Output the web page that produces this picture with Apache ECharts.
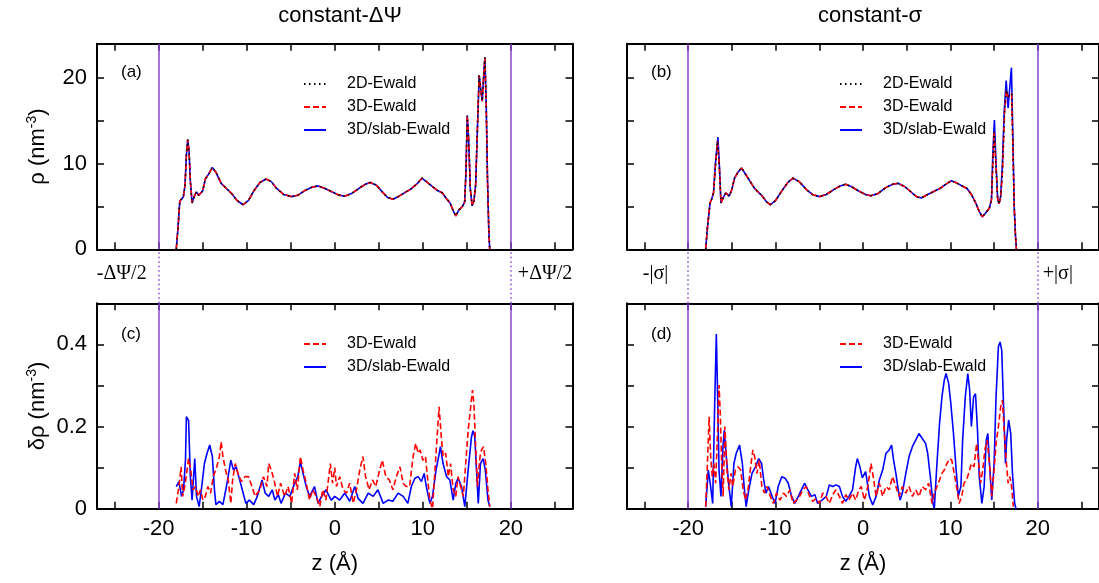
<!DOCTYPE html>
<html><head><meta charset="utf-8">
<script src="https://cdn.jsdelivr.net/npm/echarts@6/dist/echarts.min.js"></script>
<style>html,body{margin:0;padding:0;background:#fff}#c{width:1099px;height:583px}</style>
</head><body><div id="c"></div>
<script>
// ---- tick / label values ----
const xTicks = [-25,-20,-15,-10,-5,0,5,10,15,20,25];
const xLabels = [-20,-10,0,10,20];
const rhoTicks = [0,5,10,15,20];
const rhoLabels = [0,10,20];
const dTicks = [0,0.1,0.2,0.3,0.4];
const dLabels = [0,0.2,0.4];
const electrodes = [-20, 20];
const panelTitles = ['constant-ΔΨ', 'constant-σ'];
const seriesNames = ['2D-Ewald', '3D-Ewald', '3D/slab-Ewald'];

// ---- (a) density, constant-ΔΨ: the three methods coincide ----
const rhoA = [[-18.0,0],[-17.8,2.5],[-17.6,5.6],[-17.4,5.8],[-17.2,6.1],[-17.0,7.5],[-16.85,11.0],[-16.7,12.8],[-16.55,11.5],[-16.4,8.0],[-16.2,5.4],[-15.95,6.2],[-15.7,6.7],[-15.45,6.3],[-15.25,6.1],[-15.0,6.8],[-14.7,8.2],[-14.3,8.8],[-13.9,9.55],[-13.5,9.0],[-12.9,7.7],[-12.3,7.1],[-11.7,6.5],[-11.1,5.7],[-10.4,5.2],[-9.8,5.7],[-9.2,6.8],[-8.5,7.8],[-7.8,8.2],[-7.2,7.9],[-6.6,7.1],[-5.8,6.4],[-4.9,6.15],[-4.2,6.3],[-3.5,6.8],[-2.6,7.25],[-1.9,7.4],[-1.1,7.1],[-0.4,6.75],[0.4,6.35],[1.1,6.2],[1.9,6.5],[2.8,7.15],[3.5,7.6],[4.0,7.8],[4.7,7.5],[5.4,6.7],[6.0,6.05],[6.6,5.85],[7.3,6.2],[8.0,6.65],[8.6,7.0],[9.3,7.6],[9.9,8.3],[10.4,7.9],[11.0,7.4],[11.6,6.9],[12.2,6.6],[12.7,5.9],[13.1,5.4],[13.45,4.5],[13.75,3.9],[14.1,4.6],[14.5,5.0],[14.75,5.5],[14.9,9.0],[15.05,15.6],[15.2,13.0],[15.4,7.0],[15.6,5.1],[15.8,5.6],[16.0,7.5],[16.2,14.0],[16.4,20.3],[16.6,18.5],[16.75,17.3],[16.9,20.0],[17.05,22.4],[17.2,17.0],[17.35,8.0],[17.5,2.0],[17.6,0]];

// ---- (b) density, constant-σ ----
const rhoB_3D = [[-18.0,0],[-17.8,2.5],[-17.5,5.4],[-17.3,5.9],[-17.1,6.6],[-16.9,9.5],[-16.65,12.6],[-16.45,10.0],[-16.25,5.4],[-16.0,6.0],[-15.7,6.6],[-15.3,6.2],[-15.0,7.0],[-14.7,8.3],[-14.3,9.0],[-13.9,9.5],[-13.4,8.7],[-12.4,7.1],[-11.6,6.3],[-11.0,5.5],[-10.6,5.2],[-10.0,5.7],[-9.3,6.8],[-8.6,7.8],[-8.0,8.3],[-7.3,7.9],[-6.5,7.0],[-5.8,6.4],[-5.0,6.15],[-4.2,6.4],[-3.3,7.0],[-2.6,7.4],[-2.0,7.6],[-1.3,7.3],[-0.5,6.8],[0.3,6.4],[0.9,6.25],[1.7,6.5],[2.6,7.2],[3.4,7.6],[4.0,7.7],[4.8,7.3],[5.6,6.6],[6.2,6.1],[6.7,6.0],[7.4,6.4],[8.2,6.8],[8.8,7.1],[9.5,7.6],[10.1,8.0],[10.8,7.7],[11.5,7.3],[11.9,7.1],[12.4,6.4],[12.9,5.4],[13.3,4.4],[13.65,3.8],[14.0,4.2],[14.45,4.8],[14.7,5.8],[14.85,10.0],[15.0,13.7],[15.2,10.0],[15.4,6.0],[15.55,5.3],[15.75,6.0],[15.95,9.0],[16.2,16.0],[16.4,18.6],[16.6,17.8],[16.8,17.8],[17.0,18.2],[17.15,12.0],[17.3,5.0],[17.45,1.5],[17.55,0]];
const rhoB_slab = [[-18.0,0],[-17.8,2.5],[-17.5,5.4],[-17.3,5.9],[-17.1,6.6],[-16.9,9.8],[-16.6,13.1],[-16.45,10.2],[-16.25,5.4],[-16.0,6.0],[-15.7,6.6],[-15.3,6.2],[-15.0,7.0],[-14.7,8.3],[-14.3,9.0],[-13.9,9.5],[-13.4,8.7],[-12.4,7.1],[-11.6,6.3],[-11.0,5.5],[-10.6,5.2],[-10.0,5.7],[-9.3,6.8],[-8.6,7.8],[-8.0,8.3],[-7.3,7.9],[-6.5,7.0],[-5.8,6.4],[-5.0,6.15],[-4.2,6.4],[-3.3,7.0],[-2.6,7.4],[-2.0,7.6],[-1.3,7.3],[-0.5,6.8],[0.3,6.4],[0.9,6.25],[1.7,6.5],[2.6,7.2],[3.4,7.6],[4.0,7.7],[4.8,7.3],[5.6,6.6],[6.2,6.1],[6.7,6.0],[7.4,6.4],[8.2,6.8],[8.8,7.1],[9.5,7.6],[10.1,8.0],[10.8,7.7],[11.5,7.3],[11.9,7.1],[12.4,6.4],[12.9,5.4],[13.3,4.4],[13.65,3.8],[14.0,4.2],[14.45,4.8],[14.7,5.8],[14.85,11.0],[15.03,15.1],[15.2,10.5],[15.4,6.0],[15.55,5.3],[15.75,6.2],[15.95,10.0],[16.15,16.0],[16.38,19.7],[16.6,16.5],[16.8,19.0],[16.98,21.2],[17.15,13.0],[17.3,5.0],[17.45,1.5],[17.55,0]];

// ---- (c) deviation, constant-ΔΨ ----
const dC_3D = [[-18.0,0.013],[-17.7,0.054],[-17.45,0.102],[-17.27,0.03],[-16.97,0.062],[-16.6,0.122],[-16.35,0.094],[-16.1,0.046],[-15.8,0.054],[-15.5,0.03],[-15.25,0.046],[-14.97,0.021],[-14.7,0.03],[-14.4,0.054],[-14.1,0.038],[-13.8,0.078],[-13.4,0.102],[-13.1,0.127],[-12.9,0.163],[-12.7,0.127],[-12.4,0.094],[-12.1,0.07],[-11.8,0.013],[-11.6,0.07],[-11.3,0.11],[-11.0,0.086],[-10.6,0.066],[-10.2,0.078],[-9.8,0.078],[-9.4,0.054],[-9.05,0.03],[-8.5,0.046],[-8.1,0.078],[-7.7,0.054],[-7.5,0.11],[-7.2,0.094],[-6.9,0.07],[-6.5,0.03],[-6.15,0.062],[-5.7,0.03],[-5.3,0.054],[-4.9,0.013],[-4.55,0.086],[-4.25,0.046],[-3.9,0.127],[-3.6,0.094],[-3.24,0.062],[-2.86,0.021],[-2.5,0.046],[-2.1,0.03],[-1.7,0.005],[-1.36,0.046],[-1.0,0.021],[-0.5,0.11],[-0.25,0.062],[0.0,0.1],[0.19,0.054],[0.57,0.078],[0.95,0.046],[1.33,0.038],[1.7,0.062],[2.1,0.013],[2.46,0.046],[2.84,0.094],[3.2,0.127],[3.5,0.078],[3.9,0.046],[4.28,0.07],[4.66,0.054],[5.1,0.094],[5.4,0.118],[5.8,0.078],[6.2,0.07],[6.6,0.046],[7.0,0.078],[7.4,0.102],[7.77,0.062],[8.1,0.054],[8.5,0.054],[8.9,0.127],[9.2,0.159],[9.47,0.135],[9.7,0.143],[10.0,0.118],[10.3,0.127],[10.6,0.062],[10.8,0.021],[11.1,0.0],[11.36,0.086],[11.6,0.167],[11.85,0.248],[12.1,0.175],[12.3,0.127],[12.6,0.135],[12.9,0.078],[13.15,0.11],[13.45,0.046],[13.75,0.03],[14.0,0.078],[14.3,0.054],[14.6,0.03],[14.9,0.118],[15.15,0.191],[15.4,0.24],[15.64,0.289],[15.8,0.257],[16.0,0.151],[16.2,0.054],[16.5,0.127],[16.67,0.143],[16.9,0.151],[17.15,0.11],[17.4,0.046],[17.6,0.005]];
const dC_slab = [[-18.0,0.054],[-17.7,0.066],[-17.4,0.03],[-17.17,0.046],[-16.95,0.12],[-16.85,0.224],[-16.6,0.215],[-16.4,0.078],[-16.2,0.021],[-15.9,0.122],[-15.7,0.03],[-15.4,0.005],[-15.15,0.046],[-14.8,0.11],[-14.5,0.135],[-14.2,0.155],[-13.9,0.127],[-13.66,0.046],[-13.5,0.01],[-13.1,0.018],[-12.7,0.01],[-12.3,0.054],[-11.8,0.118],[-11.5,0.094],[-11.2,0.102],[-10.9,0.078],[-10.5,0.046],[-10.1,0.013],[-9.7,0.021],[-9.2,0.01],[-8.8,0.03],[-8.26,0.07],[-7.9,0.038],[-7.5,0.03],[-7.1,0.046],[-6.8,0.021],[-6.4,0.034],[-6.1,0.013],[-5.6,0.038],[-5.1,0.03],[-4.55,0.062],[-4.2,0.078],[-3.9,0.114],[-3.6,0.086],[-3.24,0.054],[-2.86,0.03],[-2.3,0.054],[-1.9,0.013],[-1.5,0.03],[-1.0,0.046],[-0.4,0.021],[0.0,0.03],[0.57,0.021],[1.14,0.038],[1.7,0.018],[2.27,0.054],[2.65,0.025],[3.2,0.013],[3.8,0.038],[4.36,0.03],[4.9,0.046],[5.5,0.013],[6.06,0.021],[6.6,0.018],[7.2,0.038],[7.77,0.03],[8.3,0.013],[8.7,0.054],[9.1,0.074],[9.47,0.078],[9.85,0.066],[10.15,0.086],[10.4,0.054],[10.8,0.013],[11.1,0.03],[11.5,0.094],[11.8,0.127],[12.0,0.151],[12.3,0.11],[12.7,0.078],[13.07,0.07],[13.45,0.021],[13.75,0.062],[14.0,0.074],[14.4,0.054],[14.77,0.005],[15.15,0.094],[15.53,0.175],[15.7,0.19],[15.9,0.175],[16.1,0.094],[16.3,0.013],[16.55,0.11],[16.85,0.122],[17.1,0.094],[17.4,0.021],[17.6,0.005]];

// ---- (d) deviation, constant-σ ----
const dD_3D = [[-18.0,0.005],[-17.8,0.11],[-17.6,0.224],[-17.43,0.127],[-17.24,0.078],[-17.05,0.11],[-16.86,0.062],[-16.63,0.191],[-16.47,0.301],[-16.33,0.232],[-16.17,0.11],[-16.0,0.03],[-15.8,0.2],[-15.56,0.094],[-15.34,0.046],[-15.1,0.086],[-14.9,0.054],[-14.6,0.094],[-14.3,0.102],[-14.0,0.094],[-13.7,0.046],[-13.45,0.021],[-13.15,0.046],[-12.9,0.094],[-12.6,0.143],[-12.4,0.127],[-12.13,0.086],[-11.87,0.118],[-11.57,0.054],[-11.27,0.038],[-11.0,0.054],[-10.6,0.03],[-10.25,0.013],[-9.9,0.038],[-9.5,0.021],[-9.1,0.038],[-8.75,0.03],[-8.37,0.046],[-8.0,0.013],[-7.6,0.021],[-7.25,0.03],[-6.87,0.046],[-6.5,0.054],[-6.1,0.03],[-5.75,0.018],[-5.37,0.025],[-5.0,0.013],[-4.6,0.038],[-4.24,0.03],[-3.85,0.013],[-3.47,0.034],[-3.1,0.046],[-2.7,0.03],[-2.35,0.013],[-1.97,0.034],[-1.6,0.021],[-1.2,0.038],[-0.84,0.021],[-0.46,0.046],[-0.21,0.054],[0.17,0.021],[0.55,0.054],[0.92,0.11],[1.23,0.07],[1.5,0.03],[1.87,0.062],[2.25,0.03],[2.63,0.054],[3.0,0.046],[3.38,0.078],[3.76,0.054],[4.14,0.03],[4.5,0.054],[4.9,0.038],[5.27,0.054],[5.65,0.03],[6.03,0.046],[6.4,0.03],[6.78,0.054],[7.16,0.046],[7.5,0.062],[7.9,0.013],[8.16,0.038],[8.46,0.054],[8.76,0.07],[9.03,0.086],[9.3,0.094],[9.6,0.11],[9.9,0.122],[10.16,0.118],[10.43,0.086],[10.7,0.054],[11.0,0.013],[11.3,0.03],[11.55,0.062],[11.85,0.07],[12.2,0.094],[12.4,0.11],[12.7,0.102],[13.0,0.159],[13.2,0.118],[13.45,0.062],[13.7,0.094],[13.94,0.143],[14.2,0.167],[14.47,0.11],[14.73,0.03],[15.0,0.094],[15.22,0.159],[15.49,0.2],[15.75,0.248],[15.95,0.264],[16.1,0.208],[16.35,0.127],[16.6,0.062],[16.8,0.078],[17.0,0.054],[17.2,0.005]];
const dD_slab = [[-18.0,0.005],[-17.7,0.094],[-17.43,0.054],[-17.2,0.013],[-16.95,0.272],[-16.78,0.425],[-16.63,0.272],[-16.47,0.094],[-16.25,0.03],[-16.02,0.151],[-15.87,0.191],[-15.64,0.127],[-15.34,0.054],[-15.07,0.005],[-14.77,0.11],[-14.5,0.135],[-14.12,0.155],[-13.8,0.11],[-13.6,0.054],[-13.37,0.005],[-13.07,0.046],[-12.7,0.086],[-12.3,0.102],[-11.93,0.122],[-11.6,0.11],[-11.36,0.07],[-11.1,0.038],[-10.8,0.054],[-10.4,0.03],[-10.06,0.013],[-9.7,0.054],[-9.3,0.078],[-8.9,0.074],[-8.55,0.062],[-8.17,0.03],[-7.8,0.013],[-7.4,0.03],[-7.05,0.046],[-6.67,0.062],[-6.3,0.046],[-5.9,0.03],[-5.5,0.034],[-5.2,0.013],[-4.7,0.021],[-4.2,0.03],[-3.85,0.058],[-3.47,0.054],[-3.1,0.058],[-2.7,0.054],[-2.35,0.03],[-1.97,0.018],[-1.6,0.03],[-1.2,0.046],[-0.84,0.102],[-0.65,0.122],[-0.35,0.102],[-0.08,0.075],[0.3,0.09],[0.73,0.03],[1.11,0.009],[1.5,0.03],[1.87,0.07],[2.25,0.094],[2.63,0.135],[3.0,0.143],[3.27,0.155],[3.5,0.118],[3.76,0.086],[4.03,0.046],[4.25,0.021],[4.5,0.038],[4.9,0.086],[5.27,0.127],[5.65,0.151],[6.03,0.167],[6.4,0.183],[6.78,0.171],[7.16,0.159],[7.4,0.135],[7.7,0.078],[8.0,0.013],[8.16,0.001],[8.46,0.11],[8.76,0.208],[9.03,0.272],[9.3,0.313],[9.5,0.329],[9.8,0.305],[10.05,0.256],[10.35,0.183],[10.66,0.094],[10.9,0.03],[11.2,0.054],[11.4,0.167],[11.7,0.272],[11.99,0.329],[12.2,0.289],[12.4,0.2],[12.65,0.272],[12.87,0.28],[13.1,0.191],[13.3,0.078],[13.6,0.013],[13.86,0.054],[14.1,0.167],[14.28,0.183],[14.47,0.11],[14.73,0.021],[15.0,0.11],[15.22,0.272],[15.49,0.394],[15.68,0.406],[15.87,0.386],[16.05,0.272],[16.3,0.11],[16.43,0.167],[16.66,0.216],[16.9,0.183],[17.1,0.086],[17.35,0.013],[17.5,0.0]];

const F = 'Liberation Sans';
const PURPLE = '#8b45d6';
const chart = echarts.init(document.getElementById('c'), null, {renderer:'canvas'});

const grids = [
  {left:97, top:43.7, width:475.5, height:205.6},   // a
  {left:627, top:43.7, width:476, height:205.6},    // b
  {left:97, top:303.3, width:475.5, height:205.4},  // c
  {left:627, top:303.3, width:476, height:205.4},   // d
  {left:97, top:249.3, width:475.5, height:54},     // between a/c
  {left:627, top:249.3, width:476, height:54}       // between b/d
];
const xAxis = [], yAxis = [], series = [];
const axLine = {show:true, onZero:false, lineStyle:{color:'#000', width:2}};
function addX(gi, pos, labels, name){
  xAxis.push({type:'value', gridIndex:gi, position:pos, min:-27, max:27,
    axisLine:axLine,
    axisTick:{show:true, inside:true, length:7, customValues:xTicks, lineStyle:{color:'#000', width:1.5}},
    axisLabel:{show:labels, customValues:xLabels, fontSize:22, color:'#000', margin:9, fontFamily:F},
    splitLine:{show:false},
    name: name || '', nameLocation:'middle', nameGap:44,
    nameTextStyle:{fontSize:22, color:'#000', fontFamily:F}});
  return xAxis.length-1;
}
function addY(gi, pos, max, ticks, labels, showLabels, name){
  yAxis.push({type:'value', gridIndex:gi, position:pos, min:0, max:max,
    axisLine:axLine,
    axisTick:{show:true, inside:true, length:7, customValues:ticks, lineStyle:{color:'#000', width:1.5}},
    axisLabel:{show:showLabels, customValues:labels, fontSize:22, color:'#000', margin:10, fontFamily:F},
    splitLine:{show:false},
    name: name || '', nameLocation:'middle', nameGap:46, nameRotate:90,
    nameTextStyle:{color:'#000', fontFamily:F, rich:{
      a:{fontSize:22, fontFamily:F, color:'#000', lineHeight:26},
      s:{fontSize:14, fontFamily:F, color:'#000', verticalAlign:'top', lineHeight:26, padding:[0,0,12,0]}}}});
  return yAxis.length-1;
}
const rhoName = '{a|ρ (nm}{s|-3}{a|)}';
const dName = '{a|δρ (nm}{s|-3}{a|)}';

const styles = {
  '2D-Ewald': {color:'#000', type:[1.5,3.5], width:1.5},
  '3D-Ewald': {color:'#ff0000', type:[6,3], width:1.6},
  '3D/slab-Ewald': {color:'#0000ff', type:'solid', width:1.6}
};
function addLine(name, xi, yi, data, withMark){
  const s = {type:'line', name:name, xAxisIndex:xi, yAxisIndex:yi, data:data,
    showSymbol:false, symbol:'none', animation:false, clip:true,
    lineStyle:styles[name], itemStyle:{color:styles[name].color}};
  if (withMark) s.markLine = {silent:true, symbol:'none', animation:false,
    label:{show:false}, lineStyle:{color:PURPLE, type:'solid', width:1.5},
    data: electrodes.map(v => ({xAxis:v}))};
  series.push(s);
}

const panels = [
  {top:true, data:{'3D/slab-Ewald':rhoA, '3D-Ewald':rhoA, '2D-Ewald':rhoA}, yName:rhoName},
  {top:true, data:{'3D/slab-Ewald':rhoB_slab, '3D-Ewald':rhoB_3D, '2D-Ewald':rhoB_3D}, yName:''},
  {top:false, data:{'3D/slab-Ewald':dC_slab, '3D-Ewald':dC_3D}, yName:dName},
  {top:false, data:{'3D/slab-Ewald':dD_slab, '3D-Ewald':dD_3D}, yName:''}
];
const legends = [];
panels.forEach((p, gi) => {
  const bottomLabels = !p.top;
  const xb = addX(gi, 'bottom', bottomLabels, bottomLabels ? 'z (Å)' : '');
  addX(gi, 'top', false);
  const max = p.top ? 24 : 0.5;
  const ticks = p.top ? rhoTicks : dTicks;
  const labs = p.top ? rhoLabels : dLabels;
  const yl = addY(gi, 'left', max, ticks, labs, gi % 2 === 0, p.yName);
  addY(gi, 'right', max, ticks, labs, false);
  let first = true;
  Object.keys(p.data).forEach(n => { addLine(n, xb, yl, p.data[n], first); first = false; });
  const left = gi % 2 === 0 ? 303 : 839;
  const top = p.top ? 76 : 336;
  legends.push({orient:'vertical', left:left, top:top, itemWidth:22, itemHeight:14, itemGap:7,
    selectedMode:false, padding:0,
    itemStyle:{opacity:0, borderWidth:0},
    data: seriesNames.filter(n => p.data[n]),
    textStyle:{fontSize:16, color:'#000', fontFamily:F, padding:[0,0,0,16]}});
});
// dotted connectors between panels
[4,5].forEach(gi => {
  xAxis.push({type:'value', gridIndex:gi, min:-27, max:27, show:false});
  yAxis.push({type:'value', gridIndex:gi, min:0, max:1, show:false});
  series.push({type:'line', xAxisIndex:xAxis.length-1, yAxisIndex:yAxis.length-1, data:[], silent:true,
    markLine:{silent:true, symbol:'none', animation:false, label:{show:false},
      lineStyle:{color:PURPLE, type:[1.5,3], width:1.5},
      data: electrodes.map(v => ({xAxis:v}))}});
});

const titleStyle = {fontSize:22, fontWeight:'normal', color:'#000', fontFamily:F};
const tagStyle = {fontSize:17, fontWeight:'normal', color:'#000', fontFamily:F};
chart.setOption({
  backgroundColor:'#fff',
  animation:false,
  title:[
    {text:panelTitles[0], left:335, top:0, textAlign:'center', textStyle:titleStyle},
    {text:panelTitles[1], left:865, top:0, textAlign:'center', textStyle:titleStyle},
    {text:'(a)', left:116, top:59, textStyle:tagStyle},
    {text:'(b)', left:646, top:59, textStyle:tagStyle},
    {text:'(c)', left:116, top:321, textStyle:tagStyle},
    {text:'(d)', left:646, top:321, textStyle:tagStyle}
  ],
  grid:grids, xAxis:xAxis, yAxis:yAxis, series:series, legend:legends
});

// electrode labels placed next to the electrode lines using the axis scale
const serif = 'Liberation Serif';
const ci = {xAxisIndex:xAxis.length-2, yAxisIndex:yAxis.length-2};
const cj = {xAxisIndex:xAxis.length-1, yAxisIndex:yAxis.length-1};
const midY = chart.convertToPixel(ci, [0, 0.55])[1];
const pL1 = chart.convertToPixel(ci, [electrodes[0], 0.5]);
const pR1 = chart.convertToPixel(ci, [electrodes[1], 0.5]);
const pL2 = chart.convertToPixel(cj, [electrodes[0], 0.5]);
const pR2 = chart.convertToPixel(cj, [electrodes[1], 0.5]);
const lab = (txt, x, align) => ({type:'text', x:x, y:midY, style:{text:txt, fontSize:20, fontFamily:serif, fill:'#000', align:align, verticalAlign:'middle'}});
chart.setOption({graphic:[
  lab('-ΔΨ/2', pL1[0]-12, 'right'),
  lab('+ΔΨ/2', pR1[0]+7, 'left'),
  lab('-|σ|', pL2[0]-20, 'right'),
  lab('+|σ|', pR2[0]+5, 'left')
]});
</script></body></html>
